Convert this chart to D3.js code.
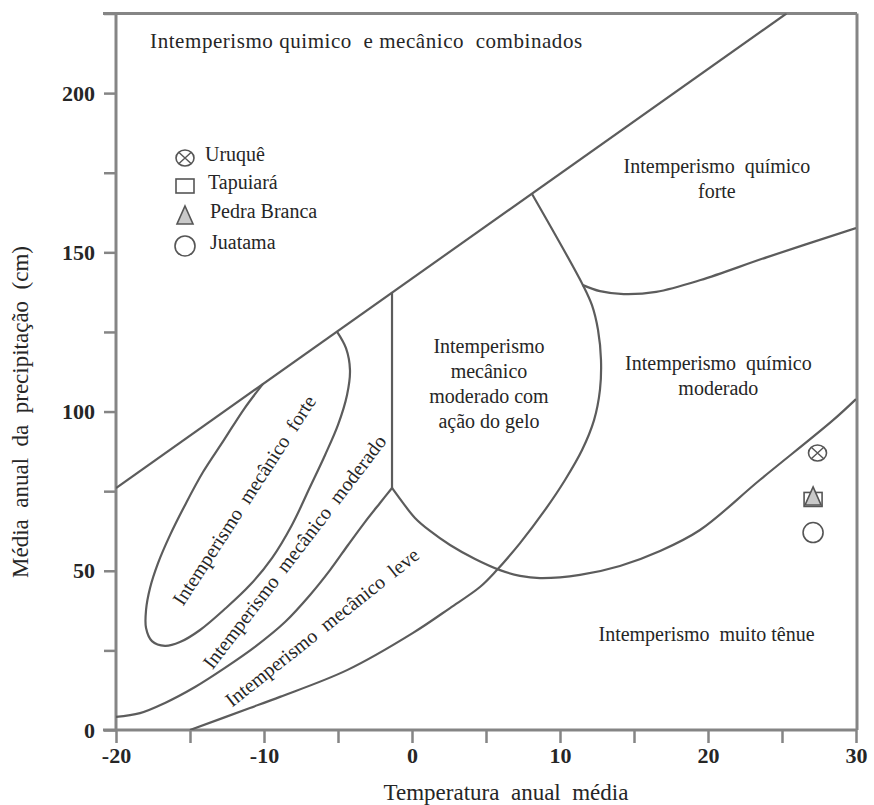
<!DOCTYPE html>
<html><head><meta charset="utf-8">
<script src="https://cdn.jsdelivr.net/npm/d3@7"></script>
<style>
html,body{margin:0;padding:0;background:#fff;}
text{font-family:"Liberation Serif","Times New Roman",serif;fill:#262626;white-space:pre;}
</style></head>
<body>
<svg id="c" width="874" height="805"></svg>
<script>
// ---- data ----
const xTickLabels = [-20, -10, 0, 10, 20, 30];
const yTickLabels = [0, 50, 100, 150, 200];
const sites = ["Uruquê", "Tapuiará", "Pedra Branca", "Juatama"];
const siteSymbols = ["cross", "square", "triangle", "circle"];
const siteTemp = [27.4, 27.1, 27.1, 27.1];
const sitePrecip = [87, 72.4, 73.5, 62];

// boundary curves [temperature °C, precipitation cm]
const mainLine = [[-20, 76], [25.3, 225]];
const frostVertical = [[-1.35, 76], [-1.35, 137.4]];
const strongMechLoop = [[-5.07,125.1],[-4.46,119.9],[-4.19,113],[-4.39,105.2],[-5,95.8],[-5.88,86.3],[-6.89,76.3],[-8.11,64.4],[-9.46,54],[-10.95,45.5],[-12.57,38.3],[-14.32,31.4],[-15.68,27.6],[-16.69,26.4],[-17.57,27.9],[-17.97,32],[-17.97,37.7],[-17.7,44.6],[-17.16,52.4],[-16.35,61.2],[-15.34,70.6],[-14.12,81],[-12.7,91.1],[-11.35,100.8],[-10.07,108.7]];
const moderateMechLower = [[-1.35,76],[-2.16,71.3],[-3.18,65.3],[-4.32,58.1],[-5.54,50.2],[-6.89,42.4],[-8.58,33.9],[-10.61,26.1],[-12.64,19.5],[-14.66,13.5],[-16.69,8.5],[-18.38,5.3],[-20,4.1]];
const lightMechLower = [[8.1,168.4],[11.55,139.7],[12.16,133.4],[12.57,125.6],[12.77,116.2],[12.7,106.8],[12.3,97.3],[11.49,87.9],[10.34,78.5],[8.99,69.1],[7.3,58.7],[5.61,49.6],[4.59,44.9],[2.57,38.3],[0.07,30.5],[-4.39,18.8],[-8.92,10.4],[-10.95,6.9],[-15,0]];
const strongChemLower = [[11.55,139.7],[12.7,137.8],[14.3,136.9],[16.5,137.6],[19.5,141.3],[24,148.5],[30,157.6]];
const frostLower = [[-1.35,76],[-0.61,71.3],[0.2,66.6],[1.22,62.5],[2.57,58.1],[4.26,53.7],[5.95,50.2],[7.3,48.4],[8.65,47.7],[11.35,48.7],[14.05,51.5],[16.76,56.2],[19.46,62.8],[23.5,78.5],[28.45,97.3],[30,103.9]];

const regionLabels = [
  {lines:["Intemperismo quimico  e mecânico  combinados"], t:-3.1, p:214.1, size:21, len:432},
  {lines:["Intemperismo  químico","forte"], t:20.6, p:175, size:20},
  {lines:["Intemperismo  químico","moderado"], t:20.7, p:113, size:20},
  {lines:["Intemperismo","mecânico","moderado com","ação do gelo"], t:5.2, p:118.5, size:20},
  {lines:["Intemperismo  muito tênue"], t:19.9, p:28, size:20}
];
const slantedLabels = [
  {text:"Intemperismo  mecânico  forte", t:-11.35, p:72.2, a:-57},
  {text:"Intemperismo  mecânico  moderado", t:-7.95, p:56, a:-52.6},
  {text:"Intemperismo  mecânico  leve", t:-6.08, p:32.3, a:-38.5}
];

// ---- drawing ----
const svg = d3.select("#c");
const x = d3.scaleLinear().domain([-20, 30]).range([116, 856]);
const y = d3.scaleLinear().domain([0, 225]).range([730, 13.5]);
const frameColor = "#858585", lineColor = "#5c5c5c";

svg.append("defs").append("clipPath").attr("id","pc")
  .append("rect").attr("x",x(-20)).attr("y",y(225)).attr("width",x(30)-x(-20)).attr("height",y(0)-y(225));

// axes
const yAxis = d3.axisLeft(y).tickValues(d3.range(0, 226, 25)).tickSize(12).tickPadding(9)
  .tickFormat(d => yTickLabels.includes(d) ? d : "");
const gy = svg.append("g").attr("transform", `translate(${x(-20)},0)`).call(yAxis);
const xAxis = d3.axisBottom(x).tickValues(d3.range(-20, 31, 5)).tickSize(13).tickPadding(4)
  .tickFormat(d => xTickLabels.includes(d) ? d : "");
const gx = svg.append("g").attr("transform", `translate(0,${y(0)})`).call(xAxis);
[gx, gy].forEach(g => {
  g.select(".domain").remove();
  g.selectAll(".tick line").attr("stroke", frameColor).attr("stroke-width", 2.5);
  g.selectAll(".tick text").attr("font-family","Liberation Serif").attr("font-weight","bold")
    .attr("font-size", 22).attr("fill","#262626");
});

// frame
const frame = svg.append("g").attr("stroke", frameColor).attr("stroke-width", 3).attr("fill","none");
frame.append("line").attr("x1",103).attr("x2",x(30)+1).attr("y1",y(0)).attr("y2",y(0));
frame.append("line").attr("x1",103).attr("x2",x(30)+1).attr("y1",y(225)).attr("y2",y(225));
frame.append("line").attr("x1",x(-20)).attr("x2",x(-20)).attr("y1",y(225)).attr("y2",y(0));
frame.append("line").attr("x1",x(30)+1).attr("x2",x(30)+1).attr("y1",y(225)).attr("y2",y(0));

// boundaries
const curve = d3.line().x(d => x(d[0])).y(d => y(d[1])).curve(d3.curveCatmullRom.alpha(0.5));
const straight = d3.line().x(d => x(d[0])).y(d => y(d[1]));
const bg = svg.append("g").attr("clip-path","url(#pc)").attr("fill","none")
  .attr("stroke", lineColor).attr("stroke-width", 2.2).attr("stroke-linejoin","round");
bg.append("path").attr("d", straight(mainLine));
bg.append("path").attr("d", straight(frostVertical));
[strongMechLoop, moderateMechLower, lightMechLower, strongChemLower, frostLower].forEach(c =>
  bg.append("path").attr("d", curve(c)));

// region labels
regionLabels.forEach(l => {
  const t = svg.append("text").attr("text-anchor","middle").attr("font-size", l.size)
    .attr("x", x(l.t)).attr("y", y(l.p));
  l.lines.forEach((s, i) => {
    const ts = t.append("tspan").attr("x", x(l.t)).attr("dy", i ? 25 : 0).text(s);
    if (l.len) ts.attr("textLength", l.len).attr("lengthAdjust", "spacing");
  });
});
slantedLabels.forEach(l => {
  svg.append("text").attr("text-anchor","middle").attr("font-size", 20).attr("dy","0.35em")
    .attr("transform", `translate(${x(l.t)},${y(l.p)}) rotate(${l.a})`).text(l.text);
});

// axis titles
svg.append("text").attr("text-anchor","middle").attr("font-size", 23)
  .attr("x", 506).attr("y", 800).text("Temperatura  anual  média");
svg.append("text").attr("text-anchor","middle").attr("font-size", 23)
  .attr("transform", "translate(28,412) rotate(-90)").text("Média  anual  da  precipitação  (cm)");

// symbols
function drawSymbol(g, type) {
  const sc = "#555", sw = 1.6;
  if (type === "cross") {
    g.append("ellipse").attr("rx",9).attr("ry",8).attr("fill","none").attr("stroke",sc).attr("stroke-width",sw);
    g.append("path").attr("d","M-6,-5.5L6,5.5M-6,5.5L6,-5.5").attr("stroke",sc).attr("stroke-width",1.4);
  } else if (type === "square") {
    g.append("rect").attr("x",-9).attr("y",-7).attr("width",18).attr("height",14).attr("fill","none").attr("stroke",sc).attr("stroke-width",sw);
  } else if (type === "triangle") {
    g.append("path").attr("d","M0,-9L8,9L-8,9Z").attr("fill","#c9c9c9").attr("stroke",sc).attr("stroke-width",sw);
  } else {
    g.append("circle").attr("r",10).attr("fill","none").attr("stroke",sc).attr("stroke-width",sw);
  }
}
// data points
sites.forEach((s, i) => {
  const g = svg.append("g").attr("transform", `translate(${x(siteTemp[i])},${y(sitePrecip[i])})`);
  drawSymbol(g, siteSymbols[i]);
});
// legend
const legY = [158, 186, 215, 246];
const legTx = [205, 208, 210, 210];
sites.forEach((s, i) => {
  const g = svg.append("g").attr("transform", `translate(185,${legY[i]})`);
  drawSymbol(g, siteSymbols[i]);
  svg.append("text").attr("x", legTx[i]).attr("y", legY[i] + 1).attr("dy","0.1em").attr("font-size", 20).text(s);
});
</script>
</body></html>
